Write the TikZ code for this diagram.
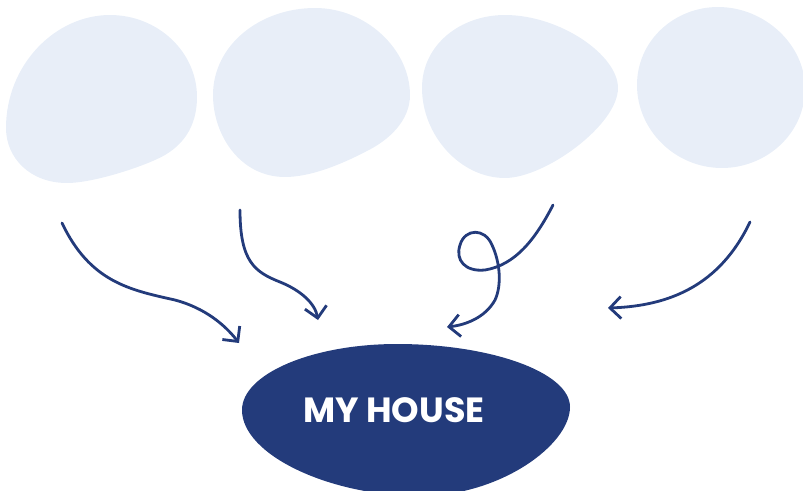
\documentclass[tikz,border=0pt]{standalone}
\usepackage{fontspec}
\setmainfont{Poppins}
\usetikzlibrary{arrows.meta}

\definecolor{blobblue}{RGB}{232,238,248}
\definecolor{navy}{RGB}{35,59,123}

\tikzset{
    blob/.style={fill=blobblue, draw=none},
    link/.style={draw=navy, line width=2.8pt, line cap=round,
        -{Straight Barb[length=11pt,width=22pt,line width=2.8pt]}},
    houselabel/.style={text=white, font=\fontsize{35}{40}\selectfont\bfseries}
}

\begin{document}
\begin{tikzpicture}[x=1pt,y=-1pt]
        \useasboundingbox (0,0) rectangle (803,490);
        \clip (0,0) rectangle (803,490);

        % === BLOBS ===
        \fill[blob] (110,15) .. controls (158,15) and (197,52) .. (197,97)
            .. controls (197,122) and (187,142) .. (165,155)
            .. controls (148,165) and (95,183) .. (67,183)
            .. controls (30,183) and (6,158) .. (6,128)
            .. controls (6,65) and (55,15) .. cycle;
        \fill[blob] (315,8) .. controls (367,8) and (410,50) .. (410,95)
            .. controls (410,120) and (390,140) .. (365,152)
            .. controls (340,165) and (310,177) .. (285,177)
            .. controls (240,177) and (213,135) .. (213,95)
            .. controls (213,45) and (260,8) .. cycle;
        \fill[blob] (505,15) .. controls (560,15) and (618,55) .. (618,88)
            .. controls (618,125) and (545,178) .. (505,178)
            .. controls (460,178) and (422,135) .. (422,88)
            .. controls (422,45) and (460,15) .. cycle;
        \fill[blob] (718,7) .. controls (765,7) and (805,45) .. (805,88)
            .. controls (805,135) and (765,168) .. (722,168)
            .. controls (675,168) and (637,130) .. (637,85)
            .. controls (637,40) and (675,7) .. cycle;

        % === MY HOUSE ===
        \fill[navy] (242,410) .. controls (242,374) and (312,344) .. (397,344)
            .. controls (490,344) and (570,372) .. (570,407)
            .. controls (570,445) and (500,496) .. (420,496)
            .. controls (330,496) and (242,455) .. cycle;
        \node[houselabel] (house) at (394,410) {MY HOUSE};

        % === START AND END POINTS ===
        \coordinate (fromA) at (62,223);
        \coordinate (fromB) at (240,210);
        \coordinate (fromC) at (553,205);
        \coordinate (fromD) at (750,222);
        \coordinate (toA) at (239,343);
        \coordinate (toB) at (318,320);
        \coordinate (toC) at (447,327);
        \coordinate (toD) at (608,308);

        % === ARROWS ===
        \draw[link] (fromA) .. controls (90,282) and (130,290) .. (175,300) .. controls (205,308) and (225,325) .. (toA);
        \draw[link] (fromB) .. controls (240,262) and (255,272) .. (280,282) .. controls (300,290) and (315,303) .. (toB);
        \draw[link] (fromC) .. controls (535,240) and (515,265) .. (485,270) .. controls (465,272) and (455,260) .. (460,245) .. controls (465,228) and (485,228) .. (492,245) .. controls (500,262) and (502,285) .. (495,300) .. controls (485,318) and (465,325) .. (toC);
        \draw[link] (fromD) .. controls (720,285) and (670,306) .. (toD);

    \end{tikzpicture}
\end{document}
